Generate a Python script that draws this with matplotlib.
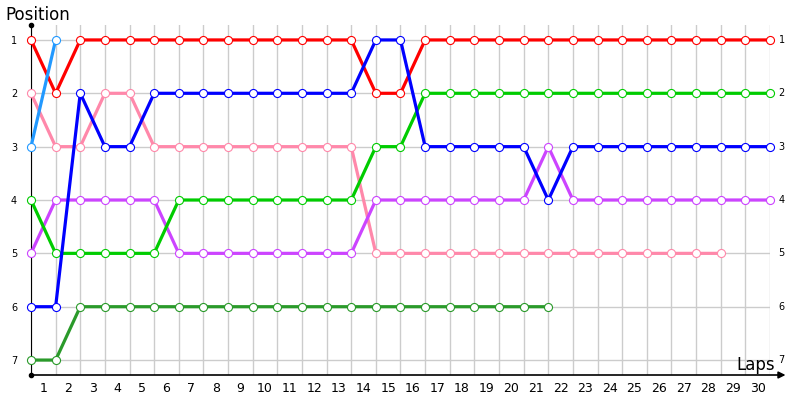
import matplotlib
matplotlib.use("Agg")
import matplotlib.pyplot as plt

# posição de cada piloto volta a volta (volta 0 = largada)
red = [1, 2, 1, 1, 1, 1, 1, 1, 1, 1, 1, 1, 1, 1, 2, 2, 1, 1, 1, 1, 1, 1, 1, 1, 1, 1, 1, 1, 1, 1, 1]
light_blue = [3, 1]
blue = [6, 6, 2, 3, 3, 2, 2, 2, 2, 2, 2, 2, 2, 2, 1, 1, 3, 3, 3, 3, 3, 4, 3, 3, 3, 3, 3, 3, 3, 3, 3]
pink = [2, 3, 3, 2, 2, 3, 3, 3, 3, 3, 3, 3, 3, 3, 5, 5, 5, 5, 5, 5, 5, 5, 5, 5, 5, 5, 5, 5, 5]
green = [4, 5, 5, 5, 5, 5, 4, 4, 4, 4, 4, 4, 4, 4, 3, 3, 2, 2, 2, 2, 2, 2, 2, 2, 2, 2, 2, 2, 2, 2, 2]
purple = [5, 4, 4, 4, 4, 4, 5, 5, 5, 5, 5, 5, 5, 5, 4, 4, 4, 4, 4, 4, 4, 3, 4, 4, 4, 4, 4, 4, 4, 4, 4]
dark_green = [7, 7, 6, 6, 6, 6, 6, 6, 6, 6, 6, 6, 6, 6, 6, 6, 6, 6, 6, 6, 6, 6]

lap_labels = [str(i) for i in range(1, 31)]
positions = [1, 2, 3, 4, 5, 6, 7]

series = [
    (dark_green, "#2a9a2a"),
    (pink, "#ff88aa"),
    (purple, "#cc44ff"),
    (green, "#00cc00"),
    (red, "#ff0000"),
    (blue, "#0000ff"),
    (light_blue, "#2299ff"),
]

fig = plt.figure(figsize=(8, 4), dpi=100)
ax = fig.add_axes([31 / 800, 25 / 400, 739 / 800, 350 / 400])

for valores, cor in series:
    ax.plot(range(len(valores)), valores, color=cor, linewidth=2.3,
            marker="o", markersize=5.8, markerfacecolor="white",
            markeredgecolor=cor, markeredgewidth=0.8, zorder=3,
            clip_on=False)

ax.set_xlim(0, 30)
ax.set_ylim(7.28, 0.72)

# grade
ax.set_xticks(range(31))
ax.set_xticklabels([])
ax.set_xticks([i + 0.5 for i in range(30)], minor=True)
ax.set_xticklabels(lap_labels, minor=True, fontsize=9)
ax.tick_params(axis="both", which="both", length=0)
ax.tick_params(axis="x", which="minor", pad=5)
ax.set_yticks(positions)
ax.set_yticklabels([str(p) for p in positions], fontsize=7)
ax.tick_params(axis="y", pad=10)
ax.grid(True, color="#cccccc", linewidth=1, zorder=0)

for p in positions:
    ax.text(30.35, p, str(p), fontsize=7, va="center", ha="left")

for lado in ["top", "right"]:
    ax.spines[lado].set_visible(False)
ax.spines["left"].set_color("black")
ax.spines["bottom"].set_visible(False)

# eixo x com seta
ax.annotate("", xy=(1.021, 0), xytext=(0, 0), xycoords="axes fraction",
            arrowprops=dict(arrowstyle="-|>", color="black", lw=1.2,
                            mutation_scale=10, shrinkA=0, shrinkB=0),
            annotation_clip=False)
ax.plot([0], [1], "ko", markersize=3, transform=ax.transAxes, clip_on=False)
ax.plot([0], [0], "ko", markersize=3, transform=ax.transAxes, clip_on=False)

fig.text(5 / 800, 1 - 15 / 400, "Position", fontsize=12, va="center", ha="left")
fig.text(775 / 800, 1 - 365 / 400, "Laps", fontsize=12, va="center", ha="right")

plt.savefig("out.png", dpi=100)
plt.close()
